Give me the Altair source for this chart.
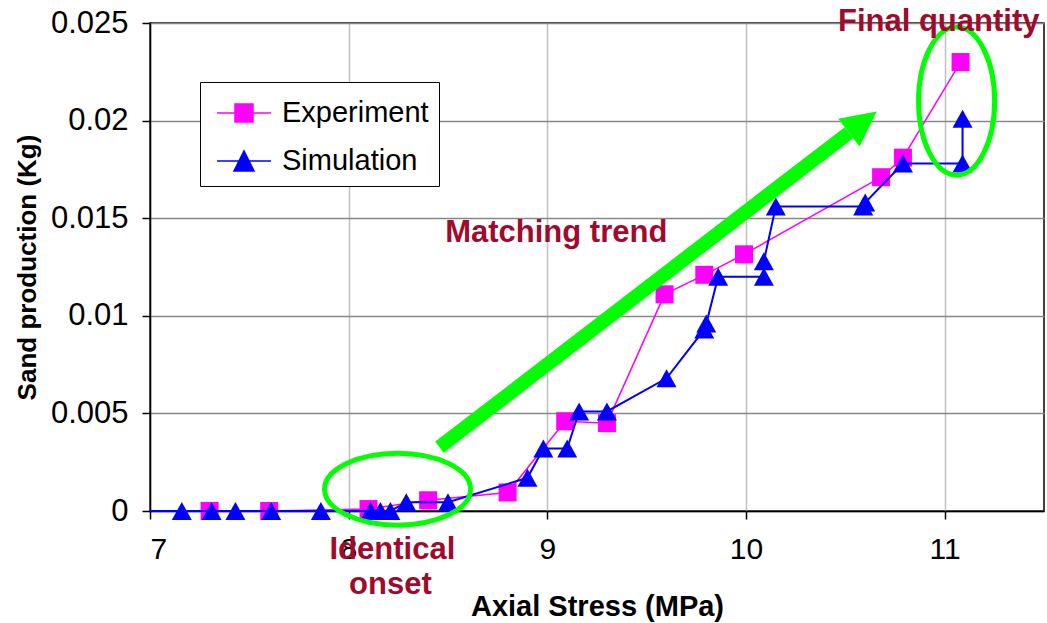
import altair as alt
import pandas as pd

# ---- measured series -------------------------------------------------------
series_names = ["Experiment", "Simulation"]

exp_x = [7.3, 7.6, 8.1, 8.4, 8.8, 9.09, 9.3, 9.59, 9.79, 9.99, 10.68, 10.79, 11.08]
exp_y = [0.0, 0.0, 0.0001, 0.00055, 0.00095, 0.0046, 0.0045, 0.0111, 0.0121, 0.01315,
         0.0171, 0.0181, 0.0230]

sim_x = [7.0, 7.16, 7.31, 7.43, 7.61, 7.86, 8.11, 8.16, 8.21, 8.29, 8.5, 8.9, 8.98,
         9.1, 9.16, 9.3, 9.6, 9.79, 9.8, 9.86, 10.09, 10.09, 10.15, 10.59, 10.6,
         10.79, 11.09, 11.09]
sim_y = [0.0, 0.0, 0.0, 0.0, 0.0, 0.0, 0.0, 0.0, 0.0, 0.00045, 0.00045, 0.0017, 0.0032,
         0.0032, 0.0051, 0.0051, 0.0068, 0.0093, 0.0096, 0.0120, 0.0120, 0.0128,
         0.0156, 0.0156, 0.0158, 0.0178, 0.0178, 0.0201]

x_ticks = [7, 8, 9, 10, 11]
y_ticks = [0, 0.005, 0.01, 0.015, 0.02, 0.025]

# ---- annotations -----------------------------------------------------------
note_text = ["Matching trend", "Final quantity", "Identical", "onset"]
note_x = [9.045, 10.97, 8.22, 8.21]
note_y = [0.01425, 0.02507, -0.00201, -0.00381]

arrow_start = (8.457, 0.00327)
arrow_end = (10.518, 0.01938)

ellipse_x = [8.246, 11.06]
ellipse_y = [0.00112, 0.0210]

# ---- styling ---------------------------------------------------------------
FONT = "Liberation Sans"
MAGENTA = "#FF00FF"
BLUE = "#0000FF"
LIME = "#00FF00"
NOTE_RED = "#A00A2D"

SQUARE = "M -1 -1 L 1 -1 L 1 1 L -1 1 Z"
TRIANGLE = "M -1 0.9 L 1 0.9 L 0 -0.9 Z"
# legend glyphs: a short line segment with the series marker in its middle
LEG_SQUARE = "M -0.7 0 L 2.0 0 M 0.2 -0.45 L 1.1 -0.45 L 1.1 0.45 L 0.2 0.45 Z"
LEG_TRIANGLE = "M -0.7 0 L 2.0 0 M 0.15 0.5 L 1.15 0.5 L 0.65 -0.5 Z"
ELLIPSE_WIDE = "M -1 0 A 1 0.493 0 1 0 1 0 A 1 0.493 0 1 0 -1 0 Z"
ELLIPSE_TALL = "M 0 -1 A 0.514 1 0 1 0 0 1 A 0.514 1 0 1 0 0 -1 Z"
ARROW_HEAD = "M 0 -1 L 0.5 0 L -0.5 0 Z"

exp_df = pd.DataFrame({"stress": exp_x, "sand": exp_y, "idx": list(range(len(exp_x)))})
sim_df = pd.DataFrame({"stress": sim_x, "sand": sim_y, "idx": list(range(len(sim_x)))})

x_scale = alt.Scale(domain=[7, 11.5], nice=False, zero=False)
y_scale = alt.Scale(domain=[0, 0.025], nice=False, zero=False)

x_axis = alt.Axis(
    title="Axial Stress (MPa)", values=x_ticks, format="d",
    grid=True, gridColor="#c0c0c0", gridWidth=1.5,
    domainColor="black", domainWidth=1.5, tickColor="black", tickWidth=1.5, tickSize=8,
    labelFont=FONT, labelFontSize=30, labelColor="black", labelPadding=15,
    titleFont=FONT, titleFontSize=29, titleFontWeight="bold", titleColor="black",
    titleBaseline="alphabetic", titleY=104,
)
y_axis = alt.Axis(
    title="Sand production (Kg)", values=y_ticks, format="~g",
    grid=True, gridColor="#888888", gridWidth=1.5,
    domainColor="black", domainWidth=1.5, tickColor="black", tickWidth=1.5, tickSize=8,
    labelFont=FONT, labelFontSize=31, labelColor="black", labelPadding=14,
    titleFont=FONT, titleFontSize=26, titleFontWeight="bold", titleColor="black",
    titleAngle=-90, titleBaseline="middle", titleX=-123, titleY=244,
)

X = alt.X("stress:Q", scale=x_scale, axis=x_axis)
Y = alt.Y("sand:Q", scale=y_scale, axis=y_axis)

exp_line = alt.Chart(exp_df).mark_line(color=MAGENTA, strokeWidth=1.5).encode(
    x=X, y=Y, order="idx:Q")
exp_pts = alt.Chart(exp_df).mark_point(
    shape=SQUARE, filled=True, color=MAGENTA, size=324, opacity=1).encode(x=X, y=Y)

sim_line = alt.Chart(sim_df).mark_line(color=BLUE, strokeWidth=2).encode(
    x=X, y=Y, order="idx:Q")
sim_pts = alt.Chart(sim_df).transform_filter("datum.stress > 7").mark_point(
    shape=TRIANGLE, filled=True, color=BLUE, size=400, opacity=1).encode(x=X, y=Y)

# legend carrier: invisible marks whose scales drive the boxed legend
leg_props = dict(
    title=None, orient="none", legendX=50, legendY=59, padding=10,
    strokeColor="black", fillColor="white",
    labelFont=FONT, labelFontSize=29, labelColor="black", labelOffset=30,
    symbolSize=1600, symbolOpacity=1, symbolStrokeWidth=1.5, rowPadding=12,
)
leg_df = pd.DataFrame({"series": series_names, "stress": [exp_x[0], sim_x[1]],
                       "sand": [exp_y[0], sim_y[1]]})
legend_layer = alt.Chart(leg_df).mark_point(filled=True, opacity=0, size=10).encode(
    x=X, y=Y,
    fill=alt.Fill("series:N", scale=alt.Scale(domain=series_names, range=[MAGENTA, BLUE]),
                  legend=alt.Legend(**leg_props)),
    stroke=alt.Stroke("series:N", scale=alt.Scale(domain=series_names, range=[MAGENTA, BLUE]),
                      legend=alt.Legend(**leg_props)),
    shape=alt.Shape("series:N", scale=alt.Scale(domain=series_names,
                                                range=[LEG_SQUARE, LEG_TRIANGLE]),
                    legend=alt.Legend(**leg_props)),
)

# green callouts
arrow_df = pd.DataFrame({"stress": [arrow_start[0]], "sand": [arrow_start[1]],
                         "stress2": [arrow_end[0]], "sand2": [arrow_end[1]]})
arrow_shaft = alt.Chart(arrow_df).mark_rule(color=LIME, strokeWidth=14).encode(
    x=X, y=Y, x2="stress2:Q", y2="sand2:Q")
head_df = pd.DataFrame({"stress": [arrow_end[0]], "sand": [arrow_end[1]]})
arrow_head = alt.Chart(head_df).mark_point(
    shape=ARROW_HEAD, filled=True, color=LIME, size=4900, angle=52.5, opacity=1
).encode(x=X, y=Y)

ell1 = alt.Chart(pd.DataFrame({"stress": [ellipse_x[0]], "sand": [ellipse_y[0]]})).mark_point(
    shape=ELLIPSE_WIDE, filled=False, color=LIME, strokeWidth=5, size=21316, opacity=1
).encode(x=X, y=Y)
ell2 = alt.Chart(pd.DataFrame({"stress": [ellipse_x[1]], "sand": [ellipse_y[1]]})).mark_point(
    shape=ELLIPSE_TALL, filled=False, color=LIME, strokeWidth=5, size=21904, opacity=1
).encode(x=X, y=Y)

notes_df = pd.DataFrame({"stress": note_x, "sand": note_y, "label": note_text})
notes = alt.Chart(notes_df).mark_text(
    font=FONT, fontSize=31, fontWeight="bold", color=NOTE_RED,
    align="center", baseline="middle"
).encode(x=X, y=Y, text="label:N")

chart = alt.layer(
    exp_line, exp_pts, sim_line, sim_pts, legend_layer,
    arrow_shaft, arrow_head, ell1, ell2, notes
).properties(
    width=894, height=488,
    autosize=alt.AutoSizeParams(type="none"),
    padding={"left": 150, "top": 23, "right": 3, "bottom": 112},
    background="white",
).configure_view(stroke="black", strokeWidth=1.5)

chart.save("out.html", embed_options={"renderer": "svg", "actions": False})
